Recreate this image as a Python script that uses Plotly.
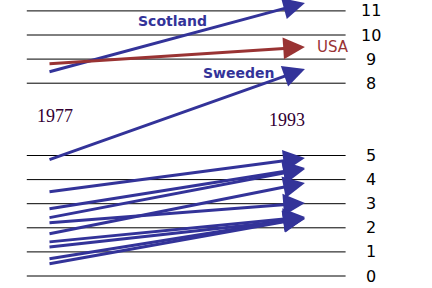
import plotly.graph_objects as go

# ---- data ----
rule_values = [11, 10, 9, 8, 5, 4, 3, 2, 1, 0]
tick_labels = ["11", "10", "9", "8", "5", "4", "3", "2", "1", "0"]

year_start = 1977
year_end = 1993

named_series = ["Scotland", "USA", "Sweeden"]
named_start = [8.46, 8.80, 4.81]
named_end = [11.33, 9.50, 8.59]

other_start = [3.49, 2.78, 2.41, 2.20, 1.74, 1.41, 1.20, 0.71, 0.50]
other_end = [4.90, 4.48, 4.44, 3.03, 3.86, 2.45, 2.37, 2.41, 2.41]

BLUE = "#333399"
RED = "#993333"
series_colors = {"Scotland": BLUE, "USA": RED, "Sweeden": BLUE}

# ---- figure ----
W, H = 432, 288
px_per_year = 16.06
x0 = year_start - 48 / px_per_year
x1 = year_start + (W - 48) / px_per_year
px_per_unit = 24.1
y1 = 276 / px_per_unit
y0 = (276 - H) / px_per_unit

fig = go.Figure()
fig.add_trace(go.Scatter(x=[x0, x1], y=[y0, y1], mode="markers",
                         marker=dict(opacity=0), hoverinfo="skip", showlegend=False))

# horizontal rules
for v in rule_values:
    fig.add_shape(type="line", xref="paper", yref="y", x0=0.062, x1=0.80, y0=v, y1=v,
                  line=dict(color="black", width=1))

FONT = "Comic Sans MS, DejaVu Sans"

# value labels on the right
for v, t in zip(rule_values, tick_labels):
    fig.add_annotation(x=0.858, xref="paper", y=v, yref="y", text=t, showarrow=False,
                       xanchor="center", yanchor="middle",
                       font=dict(family=FONT, size=16, color="black"))

def arrow(s, e, color):
    fig.add_annotation(x=year_end, y=e, ax=year_start, ay=s, xref="x", yref="y",
                       axref="x", ayref="y", text="", showarrow=True,
                       arrowhead=2, arrowsize=1.45, arrowwidth=3, arrowcolor=color,
                       standoff=0, startstandoff=0)

for s, e in zip(other_start, other_end):
    arrow(s, e, BLUE)
for name, s, e in zip(named_series, named_start, named_end):
    arrow(s, e, series_colors[name])

def label(text, px, py, color, size, family=FONT):
    fig.add_annotation(x=px / W, y=1 - py / H, xref="paper", yref="paper", text=text,
                       showarrow=False, xanchor="center", yanchor="middle",
                       font=dict(family=family, size=size, color=color))

# series labels
label("<b>Scotland</b>", 172, 21, BLUE, 14)
label("USA", 333, 47, RED, 15)
label("<b>Sweeden</b>", 239, 73, BLUE, 14)

# year labels
label(str(year_start), 54.5, 116, "#330033", 18, "Liberation Serif")
label(str(year_end), 287, 120, "#330033", 18, "Liberation Serif")

fig.update_xaxes(range=[x0, x1], visible=False, fixedrange=True)
fig.update_yaxes(range=[y0, y1], visible=False, fixedrange=True)
fig.update_layout(width=W, height=H, margin=dict(l=0, r=0, t=0, b=0),
                  plot_bgcolor="white", paper_bgcolor="white", showlegend=False)

fig.write_html("out.html")
